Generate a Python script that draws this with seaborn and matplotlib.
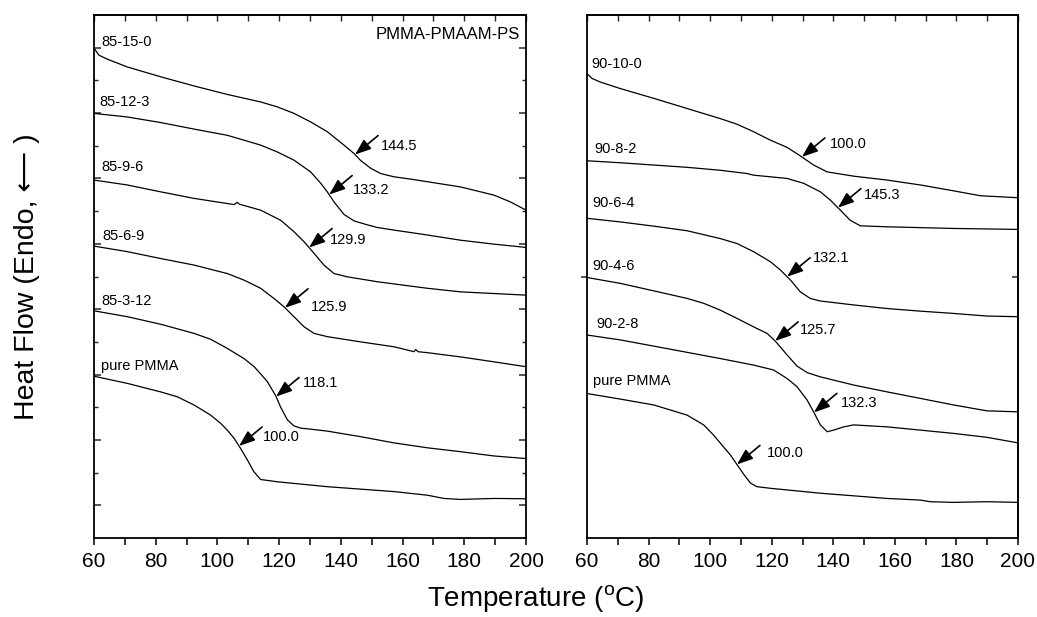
import numpy as np
import matplotlib
matplotlib.use("Agg")
import matplotlib.pyplot as plt
from matplotlib.ticker import MultipleLocator, NullLocator
import seaborn as sns

# ---------------- data (temperature in degC, heat flow in arbitrary units) ----------------
# left panel: PMMA-PMAAM-PS 85 series
t_85_15_0 = [60, 61.6, 64.3, 70.8, 81.6, 92.4, 103.2, 114.0, 119.4, 124.8, 130.2, 135.6, 141.0,
             144.3, 146.4, 149.7, 152.9, 157.2, 162.6, 168.0, 178.8, 189.6, 195.0, 200]
h_85_15_0 = [14.99, 14.77, 14.65, 14.41, 14.11, 13.83, 13.57, 13.34, 13.19, 12.99, 12.73, 12.43, 12.02,
             11.76, 11.55, 11.31, 11.15, 11.05, 10.98, 10.90, 10.74, 10.49, 10.28, 10.03]

t_85_12_3 = [60, 70.8, 81.6, 92.4, 103.2, 108.6, 114.0, 119.4, 124.8, 130.2, 133.5, 135.6, 137.8,
             141.0, 144.3, 148.6, 151.8, 157.2, 168.0, 178.8, 189.6, 200]
h_85_12_3 = [12.99, 12.88, 12.71, 12.51, 12.32, 12.17, 12.02, 11.81, 11.56, 11.20, 10.85, 10.59, 10.28,
             9.90, 9.70, 9.58, 9.50, 9.42, 9.27, 9.11, 8.99, 8.89]

t_85_9_6 = [60, 70.8, 81.6, 92.4, 105.4, 106.4, 107.2, 114.0, 120.5, 124.8, 128.1, 131.3, 134.5,
            137.8, 142.1, 151.8, 168.0, 178.8, 200]
h_85_9_6 = [10.95, 10.80, 10.59, 10.39, 10.20, 10.27, 10.21, 10.03, 9.72, 9.37, 9.06, 8.71, 8.35,
            8.09, 7.99, 7.84, 7.64, 7.53, 7.43]

t_85_6_9 = [60, 70.8, 81.6, 92.4, 103.2, 108.6, 114.0, 118.3, 121.6, 124.8, 128.1, 131.3, 135.6,
            146.4, 157.2, 163.7, 164.3, 165.0, 168.0, 178.8, 189.6, 200]
h_85_6_9 = [8.93, 8.76, 8.55, 8.35, 8.09, 7.89, 7.64, 7.33, 7.07, 6.77, 6.46, 6.26, 6.16,
            6.00, 5.85, 5.70, 5.77, 5.70, 5.67, 5.54, 5.39, 5.24]

t_85_3_12 = [60, 70.8, 81.6, 92.4, 97.8, 103.2, 108.6, 111.9, 114.0, 116.2, 118.9, 120.5, 122.7,
             124.8, 127.0, 130.2, 135.6, 146.4, 157.2, 168.0, 178.8, 189.6, 200]
h_85_3_12 = [6.95, 6.77, 6.54, 6.26, 6.08, 5.80, 5.49, 5.24, 5.02, 4.78, 4.35, 4.00, 3.61,
             3.43, 3.36, 3.33, 3.27, 3.10, 2.91, 2.76, 2.64, 2.51, 2.43]

t_pmma_l = [60, 70.8, 81.6, 87.0, 92.4, 97.8, 101.0, 103.2, 105.4, 107.5, 109.7, 111.8, 114.0,
            119.4, 135.6, 157.2, 168.0, 173.4, 178.8, 189.6, 200]
h_pmma_l = [4.95, 4.73, 4.47, 4.32, 4.07, 3.76, 3.51, 3.30, 3.05, 2.74, 2.39, 2.03, 1.79,
            1.72, 1.57, 1.42, 1.31, 1.21, 1.18, 1.21, 1.20]

# right panel: 90 series
t_90_10_0 = [60, 61.6, 64.3, 70.8, 81.7, 92.5, 103.3, 108.7, 114.1, 119.6, 125.0, 129.3, 133.6,
             138.0, 146.6, 157.5, 168.3, 179.1, 187.8, 200]
h_90_10_0 = [14.21, 14.06, 13.95, 13.75, 13.45, 13.14, 12.83, 12.66, 12.43, 12.17, 11.95, 11.69, 11.41,
             11.20, 11.07, 10.95, 10.80, 10.62, 10.47, 10.41]

t_90_8_2 = [60, 70.8, 81.7, 92.5, 103.3, 112.0, 114.1, 125.0, 130.4, 135.8, 139.0, 142.3, 145.5,
            148.8, 157.5, 179.1, 200]
h_90_8_2 = [11.54, 11.48, 11.41, 11.34, 11.25, 11.15, 11.10, 11.00, 10.85, 10.59, 10.34, 10.03, 9.72,
            9.55, 9.52, 9.47, 9.44]

t_90_6_4 = [60, 70.8, 81.7, 92.5, 103.3, 108.7, 114.1, 119.6, 122.8, 126.1, 129.3, 132.5, 135.8,
            146.6, 157.5, 168.3, 179.1, 189.9, 200]
h_90_6_4 = [9.78, 9.67, 9.54, 9.40, 9.16, 9.01, 8.76, 8.45, 8.20, 7.89, 7.53, 7.33, 7.25,
            7.13, 7.02, 6.94, 6.87, 6.79, 6.77]

t_90_4_6 = [60, 70.8, 81.7, 92.5, 97.9, 103.3, 108.7, 114.1, 118.5, 121.2, 123.0, 125.0, 128.2,
            131.5, 135.8, 146.6, 157.5, 168.3, 179.1, 189.9, 200]
h_90_4_6 = [7.97, 7.79, 7.56, 7.33, 7.18, 6.97, 6.72, 6.46, 6.26, 6.02, 5.82, 5.60, 5.26,
            5.06, 4.93, 4.68, 4.47, 4.27, 4.07, 3.89, 3.86]

t_90_2_8 = [60, 70.8, 81.7, 92.5, 103.3, 114.1, 120.6, 125.0, 128.2, 131.5, 133.6, 135.8, 138.0,
            140.1, 143.4, 146.6, 157.5, 168.3, 179.1, 189.9, 200]
h_90_2_8 = [6.21, 6.06, 5.87, 5.68, 5.49, 5.29, 5.14, 4.88, 4.63, 4.22, 3.86, 3.46, 3.25,
            3.30, 3.40, 3.46, 3.40, 3.30, 3.20, 3.08, 2.91]

t_pmma_r = [60, 70.8, 81.7, 92.5, 97.9, 101.1, 104.4, 106.5, 108.7, 110.9, 113.1, 115.2, 119.6,
            135.8, 157.5, 168.3, 171.5, 179.1, 189.9, 200]
h_pmma_r = [4.42, 4.25, 4.07, 3.76, 3.46, 3.15, 2.78, 2.55, 2.25, 1.95, 1.68, 1.57, 1.52,
            1.37, 1.21, 1.16, 1.11, 1.09, 1.11, 1.09]

left_names = ["85-15-0", "85-12-3", "85-9-6", "85-6-9", "85-3-12", "pure PMMA"]
right_names = ["90-10-0", "90-8-2", "90-6-4", "90-4-6", "90-2-8", "pure PMMA"]

# curve-label anchor (temperature, heat flow)
left_label_t = [62.3, 61.6, 62.3, 62.6, 62.3, 62.3]
left_label_h = [15.18, 13.33, 11.35, 9.24, 7.25, 5.26]
right_label_t = [61.3, 62.3, 61.9, 61.9, 63.2, 61.9]
right_label_h = [14.50, 11.90, 10.24, 8.32, 6.54, 4.80]

# Tg arrows: temperature where arrow touches the curve, and printed value
left_arrow_t = [144.6, 136.2, 129.7, 121.9, 119.0, 107.0]
left_arrow_lbl = ["144.5", "133.2", "129.9", "125.9", "118.1", "100.0"]
right_arrow_t = [129.8, 141.5, 125.0, 121.1, 133.7, 108.7]
right_arrow_lbl = ["100.0", "145.3", "132.1", "125.7", "132.3", "100.0"]

x_major = [60, 80, 100, 120, 140, 160, 180, 200]

# ---------------- layout / style ----------------
left_text_off_px = [(26, 9), (24, 5), (21, 8), (26, 1), (27, 14), (24, 9)]
right_text_off_px = [(28, 13), (26, 13), (26, 19), (25, 11), (27, 9), (30, 11)]
tail_off_px = (23, 19)
PX = 0.72  # points per pixel at dpi 100

sns.set_theme(style="ticks", rc={"axes.linewidth": 1.3})
plt.rcParams["font.family"] = ["Liberation Sans", "DejaVu Sans"]
plt.rcParams["mathtext.default"] = "regular"

W, H = 1037, 617
fig = plt.figure(figsize=(W / 100, H / 100), dpi=100)
axL = fig.add_axes([94 / W, 79 / H, 432 / W, 523 / H])
axR = fig.add_axes([587 / W, 79 / H, 431 / W, 523 / H])

left_curves = [(t_85_15_0, h_85_15_0), (t_85_12_3, h_85_12_3), (t_85_9_6, h_85_9_6),
               (t_85_6_9, h_85_6_9), (t_85_3_12, h_85_3_12), (t_pmma_l, h_pmma_l)]
right_curves = [(t_90_10_0, h_90_10_0), (t_90_8_2, h_90_8_2), (t_90_6_4, h_90_6_4),
                (t_90_4_6, h_90_4_6), (t_90_2_8, h_90_2_8), (t_pmma_r, h_pmma_r)]


def draw_panel(ax, curves, names, lab_t, lab_h, arr_t, arr_lbl, txt_off):
    for (t, h) in curves:
        sns.lineplot(x=t, y=h, ax=ax, color="black", linewidth=0.9,
                     estimator=None, sort=False, legend=False)
    for name, lt, lh in zip(names, lab_t, lab_h):
        ax.text(lt, lh, name, fontsize=10.5, ha="left", va="center", color="black")
    for (t, h), at, lbl, off in zip(curves, arr_t, arr_lbl, txt_off):
        ay = float(np.interp(at, t, h))
        ax.annotate("", xy=(at, ay), xycoords="data",
                    xytext=(tail_off_px[0] * PX, tail_off_px[1] * PX), textcoords="offset points",
                    arrowprops=dict(arrowstyle="-|>,head_length=0.8,head_width=0.3",
                                    mutation_scale=12, color="black", lw=1.2,
                                    shrinkA=0, shrinkB=0))
        ax.annotate(lbl, xy=(at, ay), xycoords="data",
                    xytext=(off[0] * PX, off[1] * PX), textcoords="offset points",
                    fontsize=10.5, ha="left", va="center", color="black")
    ax.set_xlim(60, 200)
    ax.set_ylim(0, 16)
    ax.set_xticks(x_major)
    ax.xaxis.set_minor_locator(MultipleLocator(10))
    ax.tick_params(axis="x", which="both", direction="out", length=5, width=1.1,
                   labelsize=15, pad=5, top=False, colors="black")
    sec = ax.secondary_xaxis("top")
    sec.set_xticks(x_major)
    sec.xaxis.set_minor_locator(MultipleLocator(10))
    sec.tick_params(axis="x", which="both", direction="in", length=4, width=1.0,
                    labeltop=False)
    for s in ax.spines.values():
        s.set_color("black")
        s.set_linewidth(1.3)
    ax.set_xlabel("")
    ax.set_ylabel("")


draw_panel(axL, left_curves, left_names, left_label_t, left_label_h,
           left_arrow_t, left_arrow_lbl, left_text_off_px)
draw_panel(axR, right_curves, right_names, right_label_t, right_label_h,
           right_arrow_t, right_arrow_lbl, right_text_off_px)

# left panel y ticks (no labels)
axL.set_yticks(np.arange(1, 16, 2))
axL.set_yticks(np.arange(2, 16, 2), minor=True)
axL.tick_params(axis="y", which="major", direction="in", length=5, width=1.1,
                left=True, right=True, labelleft=False)
axL.tick_params(axis="y", which="minor", direction="in", length=3, width=1.0,
                left=True, right=True)

# right panel: single tick
axR.set_yticks([8])
axR.yaxis.set_minor_locator(NullLocator())
axR.tick_params(axis="y", which="major", direction="out", length=4, width=1.1,
                left=True, right=False, labelleft=False)
secR = axR.secondary_yaxis("right")
secR.set_yticks([8])
secR.tick_params(axis="y", direction="in", length=4, width=1.1, labelright=False)

axL.text(0.985, 0.963, "PMMA-PMAAM-PS", transform=axL.transAxes, fontsize=12,
         ha="right", va="center", color="black")

axL.set_ylabel("Heat Flow (Endo, \u27f5 )", fontsize=20.5, color="black")
axL.yaxis.set_label_coords(-0.125, 0.5)

fig.text(536 / W, 1 - 599 / H, "Temperature ($^{o}$C)", fontsize=20,
         ha="center", va="center", color="black")

fig.savefig("out.png", dpi=100, facecolor="white")
